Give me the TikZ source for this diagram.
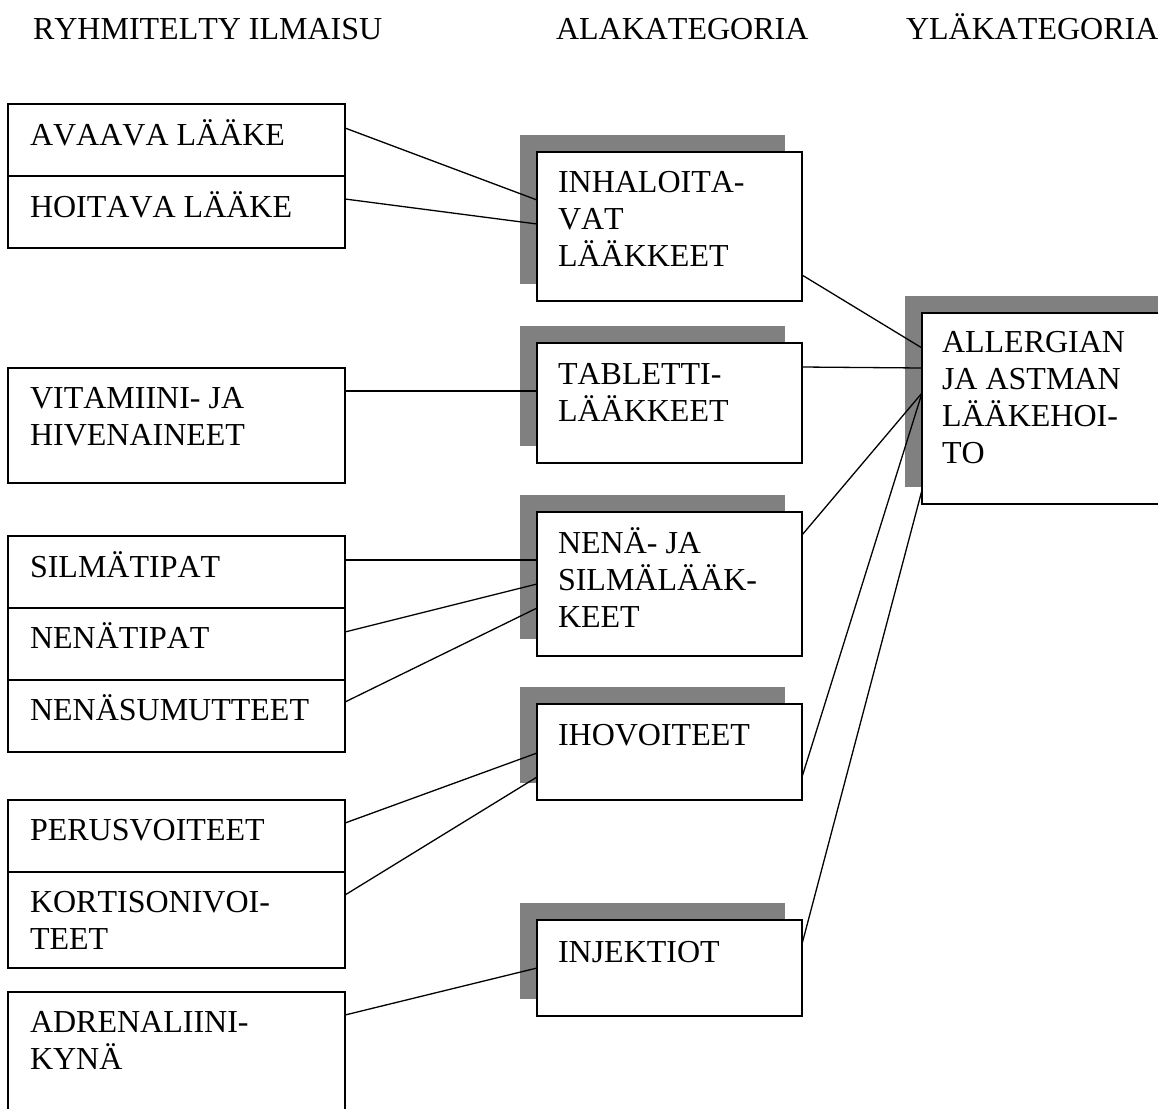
\documentclass[tikz,border=0pt]{standalone}
\usepackage{fontspec}
\setmainfont{Liberation Serif}[Kerning=Off]
\usetikzlibrary{shadows}
\definecolor{shad}{RGB}{128,128,128}
\newcommand{\tlines}[1]{\vtop{\baselineskip=37pt\lineskiplimit=-100pt\lineskip=0pt #1}}
\newcommand{\lconn}[4]{\draw[ln] ([yshift=-#2pt]#1.north east) -- ([yshift=-#4pt]#3.north west);}
\begin{document}
\begin{tikzpicture}[x=1pt,y=-1pt,
  bx/.style={draw, line width=1.3pt, fill=white, inner sep=0pt, outer sep=0pt, anchor=north west},
  sh/.style={general shadow={fill=shad, shadow xshift=-17pt, shadow yshift=17pt}},
  txt/.style={anchor=base west, inner sep=0pt, outer sep=0pt, font=\fontsize{32}{37}\selectfont},
  ln/.style={line width=1.3pt}]
\useasboundingbox (0,0) rectangle (1158,1108);
\fill[white] (0,0) rectangle (1158,1108);

% headers
\node[txt] (h1) at (33,40) {RYHMITELTY ILMAISU};
\node[txt] (h2) at (556,40) {ALAKATEGORIA};
\node[txt] (h3) at (906,40) {YLÄKATEGORIA};

% left boxes
\node[bx, minimum width=337pt, minimum height=72pt] (avaava) at (8,104) {};
\node[bx, minimum width=337pt, minimum height=72pt] (hoitava) at (8,176) {};
\node[bx, minimum width=337pt, minimum height=115pt] (vit) at (8,368) {};
\node[bx, minimum width=337pt, minimum height=72pt] (silm) at (8,536) {};
\node[bx, minimum width=337pt, minimum height=72pt] (nenat) at (8,608) {};
\node[bx, minimum width=337pt, minimum height=72pt] (nenas) at (8,680) {};
\node[bx, minimum width=337pt, minimum height=72pt] (perus) at (8,800) {};
\node[bx, minimum width=337pt, minimum height=96pt] (kort) at (8,872) {};
\node[bx, minimum width=337pt, minimum height=140pt] (adr) at (8,992) {};

% middle boxes (with shadow)
\node[bx, sh, minimum width=265pt, minimum height=149pt] (inh) at (537,152) {};
\node[bx, sh, minimum width=265pt, minimum height=120pt] (tab) at (537,343) {};
\node[bx, sh, minimum width=265pt, minimum height=144pt] (nena) at (537,512) {};
\node[bx, sh, minimum width=265pt, minimum height=96pt] (iho) at (537,704) {};
\node[bx, sh, minimum width=265pt, minimum height=96pt] (inj) at (537,920) {};

% right box
\node[bx, sh, minimum width=300pt, minimum height=191pt] (all) at (922,313) {};

% texts
\node[txt] (tavaava) at (30,145) {AVAAVA LÄÄKE};
\node[txt] (thoitava) at (30,217) {HOITAVA LÄÄKE};
\node[txt] (tvit) at (30,408) {\tlines{\hbox{VITAMIINI- JA}\hbox{HIVENAINEET}}};
\node[txt] (tsilm) at (30,577) {SILMÄTIPAT};
\node[txt] (tnenat) at (30,648) {NENÄTIPAT};
\node[txt] (tnenas) at (30,720) {NENÄSUMUTTEET};
\node[txt] (tperus) at (30,840) {PERUSVOITEET};
\node[txt] (tkort) at (30,912) {\tlines{\hbox{KORTISONIVOI-}\hbox{TEET}}};
\node[txt] (tadr) at (30,1032) {\tlines{\hbox{ADRENALIINI-}\hbox{KYNÄ}}};

\node[txt] (tinh) at (558,192) {\tlines{\hbox{INHALOITA-}\hbox{VAT}\hbox{LÄÄKKEET}}};
\node[txt] (ttab) at (558,384) {\tlines{\hbox{TABLETTI-}\hbox{LÄÄKKEET}}};
\node[txt] (tnena) at (558,553) {\tlines{\hbox{NENÄ- JA}\hbox{SILMÄLÄÄK-}\hbox{KEET}}};
\node[txt] (tiho) at (558,745) {IHOVOITEET};
\node[txt] (tinj) at (558,962) {INJEKTIOT};
\node[txt] (tall) at (942,352) {\tlines{\hbox{ALLERGIAN}\hbox{JA ASTMAN}\hbox{LÄÄKEHOI-}\hbox{TO}}};

% connectors
\lconn{avaava}{24}{inh}{48}
\lconn{hoitava}{23}{inh}{72}
\lconn{vit}{23}{tab}{48}
\lconn{silm}{24}{nena}{48}
\lconn{nenat}{24}{nena}{72}
\lconn{nenas}{22}{nena}{96}
\lconn{perus}{23}{iho}{49}
\lconn{kort}{23}{iho}{73}
\lconn{adr}{23}{inj}{48}

\lconn{inh}{123}{all}{35}
\lconn{tab}{24}{all}{55}
\lconn{nena}{23}{all}{80}
\lconn{iho}{73}{all}{80}
\lconn{inj}{24}{all}{177}
\end{tikzpicture}
\end{document}
